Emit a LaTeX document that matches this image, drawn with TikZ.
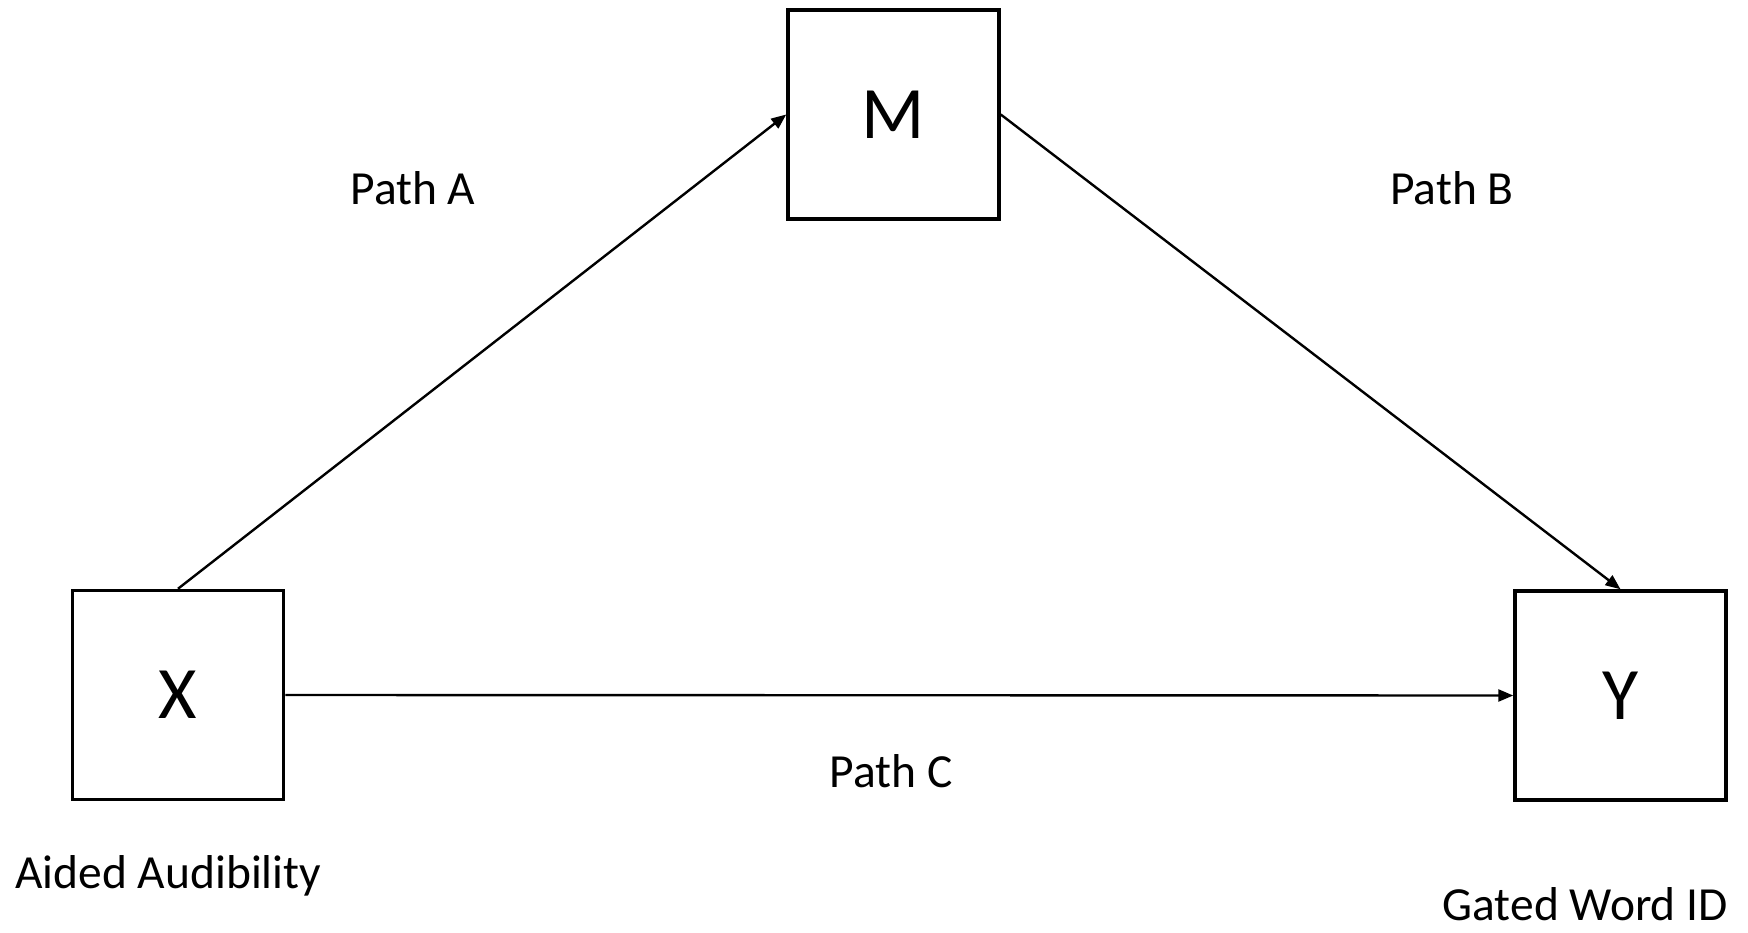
\documentclass[tikz,border=0pt]{standalone}
\usepackage{fontspec}
\setmainfont{Carlito}
\usetikzlibrary{arrows.meta}
\begin{document}
\begin{tikzpicture}[x=1pt,y=-1pt,
  box/.style={draw=black,line width=3.5pt,minimum width=211pt,minimum height=209pt,inner sep=0pt,font=\fontsize{74}{80}\selectfont},
  lbl/.style={font=\fontsize{47.5}{52}\selectfont,inner sep=0pt},
  arr/.style={line width=2.4pt,-{Triangle[length=15pt,width=12pt]}}]
\useasboundingbox (0,0) rectangle (1748,933);
\node[box] (M) at (893.5,114.5) {M};
\node[box] (X) at (178,695) {X};
\node[box] (Y) at (1620.5,695.5) {Y};
\draw[arr] (X.north) -- (M.west);
\draw[arr] (M.east) -- (Y.north);
\draw[arr] (X.east) -- (Y.west);
\node[lbl,anchor=base] (pa) at (413,205) {Path A};
\node[lbl,anchor=base] (pb) at (1452,205) {Path B};
\node[lbl,anchor=base] (pc) at (891,787) {Path C};
\node[lbl,anchor=base west] (aa) at (15,888) {Aided Audibility};
\node[lbl,anchor=base east] (gw) at (1728,920) {Gated Word ID};
\end{tikzpicture}
\end{document}
